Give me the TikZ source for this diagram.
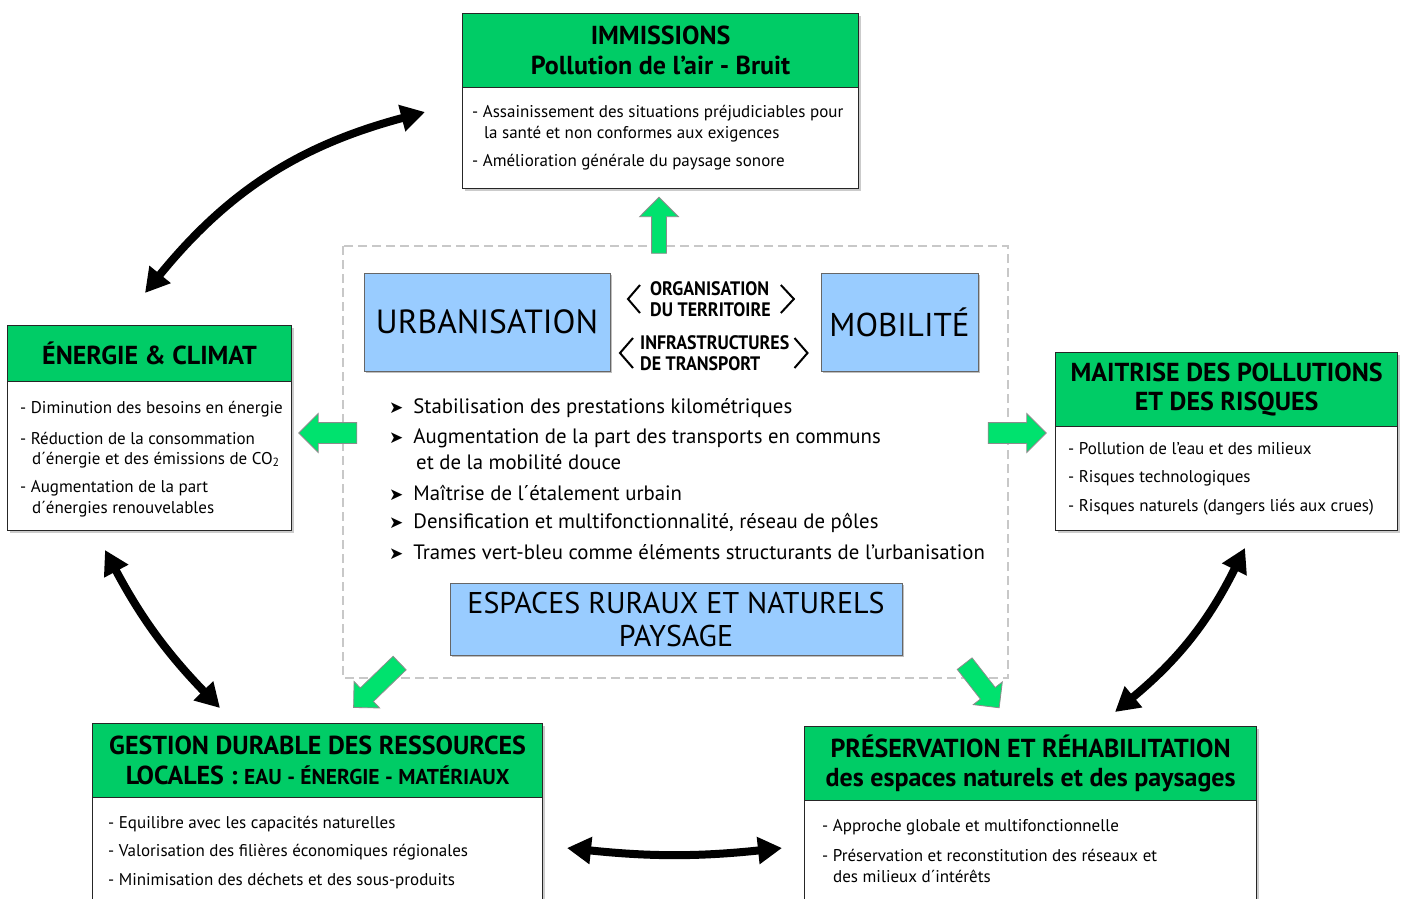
\documentclass[tikz,border=0pt]{standalone}
\usepackage{fontspec}
\setmainfont{PT Sans}
\newfontfamily\narrowfont[FakeStretch=0.92]{PT Sans}
\newfontfamily\symbfont{DejaVu Sans}
\usetikzlibrary{arrows.meta,positioning,shapes.arrows,shadows}
\definecolor{headgreen}{RGB}{0,204,102}
\definecolor{arrowgreen}{RGB}{0,226,110}
\definecolor{themeblue}{RGB}{153,204,255}
\definecolor{dashgray}{RGB}{200,200,200}
\begin{document}
\begin{tikzpicture}[x=1pt, y=-1pt,
    boxhead/.style={draw=black!85, line width=1.2pt, fill=headgreen,
      anchor=north west, inner sep=0pt, align=center,
      drop shadow={shadow xshift=2pt, shadow yshift=-2pt, fill=black!40},
      font=\bfseries\fontsize{26}{29.5}\selectfont},
    boxbody/.style={draw=black!85, line width=1.2pt, fill=white,
      anchor=north west, inner sep=0pt,
      drop shadow={shadow xshift=2pt, shadow yshift=-2pt, fill=black!40}},
    boxitem/.style={anchor=west, inner sep=0pt, font=\fontsize{17}{20}\selectfont},
    theme/.style={draw=black!60, line width=1pt, fill=themeblue, inner sep=0pt,
      align=center, drop shadow={shadow xshift=1.5pt, shadow yshift=-1.5pt, fill=black!50}},
    link/.style={anchor=west, inner sep=0pt, align=left,
      font=\narrowfont\bfseries\fontsize{19.5}{21}\selectfont},
    goal/.style={anchor=west, inner sep=0pt,
      font=\fontsize{20.8}{24}\selectfont},
    flow/.style={single arrow, fill=arrowgreen, draw=black!45, line width=0.8pt,
      inner sep=0pt, single arrow head extend=#1},
    both/.style={line width=8pt,
      {Triangle[length=24pt,width=26pt]}-{Triangle[length=24pt,width=26pt]}}
  ]
  \useasboundingbox (0,0) rectangle (1403,898);
  \clip (0,0) rectangle (1403,898);
  \fill[white] (0,0) rectangle (1403,898);

  \draw[dashgray, line width=2.5pt, dash pattern=on 9pt off 5pt] (343,246) rectangle (1008,678);

  \node[boxhead, minimum width=396pt, minimum height=74pt] (imm-head) at (462,13)
    {IMMISSIONS\\Pollution de l’air - Bruit};
  \node[boxbody, minimum width=396pt, minimum height=101pt] (imm-body) at (462,87) {};
  \node[boxitem] (imm-1) at (472,113) {- Assainissement des situations préjudiciables pour};
  \node[boxitem] (imm-1b) at (484,134) {la santé et non conformes aux exigences};
  \node[boxitem] (imm-2) at (472,162) {- Amélioration générale du paysage sonore};

  \node[boxhead, minimum width=284pt, minimum height=56pt] (ene-head) at (7,325)
    {ÉNERGIE \& CLIMAT};
  \node[boxbody, minimum width=284pt, minimum height=149pt] (ene-body) at (7,381) {};
  \node[boxitem] (ene-1) at (20,409) {- Diminution des besoins en énergie};
  \node[boxitem] (ene-2) at (20,438) {- Réduction de la consommation};
  \node[boxitem] (ene-2b) at (32,460) {d´énergie et des émissions de CO\textsubscript{2}};
  \node[boxitem] (ene-3) at (20,488) {- Augmentation de la part};
  \node[boxitem] (ene-3b) at (32,509) {d´énergies renouvelables};

  \node[boxhead, minimum width=342pt, minimum height=74pt] (mai-head) at (1055,352)
    {MAITRISE DES POLLUTIONS\\ET DES RISQUES};
  \node[boxbody, minimum width=342pt, minimum height=104pt] (mai-body) at (1055,426) {};
  \node[boxitem] (mai-1) at (1068,449) {- Pollution de l’eau et des milieux};
  \node[boxitem] (mai-2) at (1068,478) {- Risques technologiques};
  \node[boxitem] (mai-3) at (1068,507) {- Risques naturels (dangers liés aux crues)};

  \node[boxhead, minimum width=450pt, minimum height=74pt] (ges-head) at (92,723)
    {GESTION DURABLE DES RESSOURCES\\LOCALES : {\fontsize{21.5}{29.5}\selectfont EAU - ÉNERGIE - MATÉRIAUX}};
  \node[boxbody, minimum width=450pt, minimum height=120pt] (ges-body) at (92,797) {};
  \node[boxitem] (ges-1) at (108,824) {- Equilibre avec les capacités naturelles};
  \node[boxitem] (ges-2) at (108,852) {- Valorisation des filières économiques régionales};
  \node[boxitem] (ges-3) at (108,881) {- Minimisation des déchets et des sous-produits};

  \node[boxhead, minimum width=452pt, minimum height=74pt] (pre-head) at (804,726)
    {PRÉSERVATION ET RÉHABILITATION\\des espaces naturels et des paysages};
  \node[boxbody, minimum width=452pt, minimum height=120pt] (pre-body) at (804,800) {};
  \node[boxitem] (pre-1) at (822,827) {- Approche globale et multifonctionnelle};
  \node[boxitem] (pre-2) at (822,855) {- Préservation et reconstitution des réseaux et};
  \node[boxitem] (pre-2b) at (833,876) {des milieux d´intérêts};

  \node[theme, minimum width=246pt, minimum height=98pt,
    font=\fontsize{33.5}{36}\selectfont] (urb) at (487,322) {URBANISATION};
  \node[theme, minimum width=157pt, minimum height=98pt,
    font=\fontsize{33}{36}\selectfont] (mob) at (899.5,322) {MOBILITÉ};
  \node[theme, minimum width=452pt, minimum height=72pt,
    font=\fontsize{30}{33}\selectfont] (esp) at (676,619)
    {ESPACES RURAUX ET NATURELS\\PAYSAGE};

  \node[link] (org) at (650,299) {ORGANISATION\\DU TERRITOIRE};
  \node[link] (inf) at (640,353) {INFRASTRUCTURES\\DE TRANSPORT};
  \draw[line width=2pt] ([xshift=-10pt,yshift=14pt]org.west) -- ([xshift=-22pt]org.west)
    -- ([xshift=-10pt,yshift=-14pt]org.west);
  \draw[line width=2pt] ([xshift=10pt,yshift=14pt]org.east) -- ([xshift=23pt]org.east)
    -- ([xshift=10pt,yshift=-14pt]org.east);
  \draw[line width=2pt] ([xshift=-7pt,yshift=15pt]inf.west) -- ([xshift=-20pt]inf.west)
    -- ([xshift=-7pt,yshift=-15pt]inf.west);
  \draw[line width=2pt] ([xshift=5pt,yshift=15pt]inf.east) -- ([xshift=18pt]inf.east)
    -- ([xshift=5pt,yshift=-15pt]inf.east);

  \node[goal] (g1) at (389,408) {{\symbfont\fontsize{17}{17}\selectfont ➤}\hspace{10pt}Stabilisation des prestations kilométriques};
  \node[goal] (g2) at (389,438) {{\symbfont\fontsize{17}{17}\selectfont ➤}\hspace{10pt}Augmentation de la part des transports en communs};
  \node[goal] (g2b) at (416,462) {et de la mobilité douce};
  \node[goal] (g3) at (389,493) {{\symbfont\fontsize{17}{17}\selectfont ➤}\hspace{10pt}Maîtrise de l´étalement urbain};
  \node[goal] (g4) at (389,523) {{\symbfont\fontsize{17}{17}\selectfont ➤}\hspace{10pt}Densification et multifonctionnalité, réseau de pôles};
  \node[goal] (g5) at (389,552) {{\symbfont\fontsize{17}{17}\selectfont ➤}\hspace{10pt}Trames vert-bleu comme éléments structurants de l’urbanisation};

  \node[flow=12pt, text height=7pt, text depth=7pt, minimum height=56pt, rotate=90] (up) at (659,229) {};
  \node[flow=9pt, text height=10pt, text depth=10pt, minimum height=58pt, rotate=180] (toene) at (333,433) {};
  \node[flow=9pt, text height=10pt, text depth=10pt, minimum height=58pt] (tomai) at (1012,433) {};
  \node[flow=9pt, text height=9pt, text depth=9pt, minimum height=64pt, rotate=224] (toges) at (380,682) {};
  \node[flow=9pt, text height=9pt, text depth=9pt, minimum height=56pt, rotate=-52] (topre) at (979,682) {};

  \coordinate (ene-top) at (145,293);
  \coordinate (imm-left) at (425,112);
  \coordinate (ene-low) at (105,550);
  \coordinate (ges-top) at (220,708);
  \coordinate (mai-low) at (1245,548);
  \coordinate (pre-top) at (1115,712);
  \coordinate (ges-right) at (567,848);
  \coordinate (pre-left) at (782,848);
  \draw[both] (ene-top) to[bend left=18] (imm-left);
  \draw[both] (ene-low) to[bend right=8] (ges-top);
  \draw[both] (mai-low) to[bend left=12] (pre-top);
  \draw[both] (ges-right) to[bend right=6] (pre-left);
\end{tikzpicture}
\end{document}
